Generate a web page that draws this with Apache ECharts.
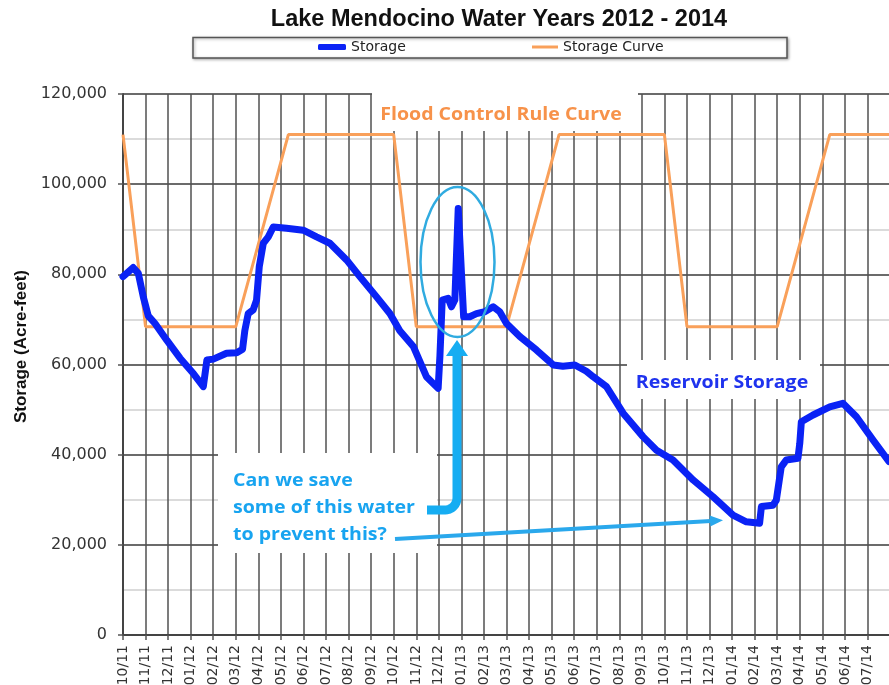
<!DOCTYPE html>
<html><head><meta charset="utf-8">
<script src="https://cdn.jsdelivr.net/npm/echarts@6/dist/echarts.min.js"></script>
<style>html,body{margin:0;padding:0;background:#fff}#c{width:889px;height:685px}</style>
</head><body><div id="c"></div>
<script>
// Month index: 0 = 10/11 (Oct 2011)
const monthLabels = ['10/11','11/11','12/11','01/12','02/12','03/12','04/12','05/12','06/12','07/12','08/12','09/12',
  '10/12','11/12','12/12','01/13','02/13','03/13','04/13','05/13','06/13','07/13','08/13','09/13',
  '10/13','11/13','12/13','01/14','02/14','03/14','04/14','05/14','06/14','07/14'];

const storageMonth = [0.00,0.25,0.45,0.68,0.90,1.12,1.42,1.94,2.53,3.12,3.56,3.63,3.72,4.00,4.59,5.04,5.30,5.40,5.55,5.77,
  5.92,6.04,6.22,6.44,6.66,7.25,7.99,8.58,9.17,9.91,10.50,11.24,11.83,12.27,12.87,13.45,13.97,14.05,14.15,14.41,
  14.56,14.71,14.86,15.10,15.37,15.67,16.04,16.41,16.70,17.00,17.59,18.33,19.07,19.50,20.03,20.54,20.84,21.43,22.17,23.05,
  23.65,24.38,25.27,26.15,27.04,27.63,28.22,28.30,28.81,28.96,29.18,29.40,29.92,30.00,30.07,30.59,31.33,31.91,32.51,33.24,33.95];
const storageValue = [79500,80600,81500,80200,75000,70800,69100,65400,61400,58000,55100,54700,61000,61200,62500,62600,63400,67500,71300,72100,
  74300,81700,86900,88300,90500,90200,89800,88300,86900,83200,79500,75000,71300,67500,64000,57300,54700,62000,74300,74700,
  72800,74300,94600,70600,70600,71300,71700,72800,71700,69100,66200,63200,59900,59600,59900,58500,57300,55100,49200,44000,
  41000,38800,34400,30700,26600,25100,24800,28500,28800,29900,37300,38800,39200,42500,47300,48800,50600,51400,48400,43300,38500];

const curveMonth = [0, 1, 5, 7.33, 12, 13, 17, 19.33, 24, 25, 29, 31.33, 34];
const curveValue = [111000, 68400, 68400, 111000, 111000, 68400, 68400, 111000, 111000, 68400, 68400, 111000, 111000];

const chart = echarts.init(document.getElementById('c'), null, {renderer: 'canvas'});
const storageData = storageMonth.map((m, i) => [m, storageValue[i]]);
const curveData = curveMonth.map((m, i) => [m, curveValue[i]]);

const legendText = {fontFamily: 'DejaVu Sans', fontSize: 14, color: '#222'};
const noteFont = '"Open Sans", "Lato", sans-serif';
const noteScale = 1.15;

function arc(cx, cy, r, a0, a1, n) {
  const pts = [];
  for (let i = 0; i <= n; i++) {
    const a = a0 + (a1 - a0) * i / n;
    pts.push([cx + r * Math.cos(a), cy + r * Math.sin(a)]);
  }
  return pts;
}

const bentPts = [[427, 510]].concat(arc(445, 498, 12, Math.PI / 2, 0, 8)).concat([[457, 354]]);

chart.setOption({
  animation: false,
  backgroundColor: '#fff',
  title: {
    text: 'Lake Mendocino Water Years 2012 - 2014',
    left: 499, top: 8, textAlign: 'center', padding: 0,
    textStyle: {fontFamily: 'Liberation Sans', fontWeight: 'bold', fontSize: 23.5, color: '#111'}
  },
  legend: [
    {data: ['Storage'], left: 318, top: 40, padding: 0, icon: 'roundRect', itemWidth: 28, itemHeight: 6, textStyle: legendText, selectedMode: false},
    {data: ['Storage Curve'], left: 532, top: 40, padding: 0, icon: 'rect', itemWidth: 26, itemHeight: 3, textStyle: legendText, selectedMode: false}
  ],
  grid: {left: 123, top: 94, width: 767, height: 541, containLabel: false, outerBoundsMode: 'none'},
  xAxis: {
    type: 'value', min: 0, max: 34, interval: 1,
    axisLine: {show: true, onZero: false, lineStyle: {color: '#444', width: 2}},
    axisTick: {show: true, length: 5, lineStyle: {color: '#555', width: 1.5}},
    axisLabel: {
      rotate: 90, margin: 10, fontFamily: 'DejaVu Sans', fontSize: 14, color: '#333',
      showMinLabel: true, showMaxLabel: false, hideOverlap: false,
      formatter: v => {
        const r = Math.round(v);
        return (Math.abs(v - r) < 1e-6 && r >= 0 && r < monthLabels.length) ? monthLabels[r] : '';
      }
    },
    splitLine: {show: true, lineStyle: {color: '#505050', width: 1.5}}
  },
  yAxis: {
    type: 'value', min: 0, max: 120000, interval: 20000,
    name: 'Storage (Acre-feet)', nameLocation: 'middle', nameGap: 91, nameRotate: 90,
    nameTextStyle: {fontFamily: 'Liberation Sans', fontWeight: 'bold', fontSize: 17, color: '#111', padding: [0, 0, 0, 36]},
    axisLine: {show: true, lineStyle: {color: '#444', width: 2}},
    axisTick: {show: true, length: 5, lineStyle: {color: '#555', width: 1.5}},
    axisLabel: {margin: 16, fontFamily: 'DejaVu Sans', fontSize: 16, color: '#333',
      formatter: v => v.toLocaleString('en-US')},
    splitLine: {show: true, lineStyle: {color: '#3a3a3a', width: 1.5}},
    minorTick: {show: false, splitNumber: 2},
    minorSplitLine: {show: true, lineStyle: {color: '#d0d0d0', width: 1.5}}
  },
  series: [
    {name: 'Storage', type: 'line', data: storageData, symbol: 'none', z: 3,
      lineStyle: {color: '#0A22F5', width: 7, join: 'round', cap: 'round'}, itemStyle: {color: '#0A22F5'}},
    {name: 'Storage Curve', type: 'line', data: curveData, symbol: 'none', z: 2,
      lineStyle: {color: '#F9A05A', width: 3}, itemStyle: {color: '#F9A05A'}}
  ],
  graphic: [
    {type: 'rect', z: 0, shape: {x: 193, y: 37.5, width: 594, height: 20.5},
      style: {fill: '#fff', stroke: '#555', lineWidth: 1.5, shadowBlur: 3, shadowColor: 'rgba(0,0,0,0.35)', shadowOffsetX: 1, shadowOffsetY: 1}},
    {type: 'rect', z: 1, shape: {x: 372, y: 90, width: 266, height: 41}, style: {fill: '#fff'}},
    {type: 'text', z: 1, x: 501, y: 115, scaleX: noteScale,
      style: {text: 'Flood Control Rule Curve', fill: '#F7924A', font: 'bold 17px ' + noteFont,
        textAlign: 'center', textVerticalAlign: 'middle', align: 'center', verticalAlign: 'middle'}},
    {type: 'rect', z: 1, shape: {x: 627, y: 360, width: 193, height: 39}, style: {fill: '#fff'}},
    {type: 'text', z: 1, x: 722, y: 383, scaleX: noteScale,
      style: {text: 'Reservoir Storage', fill: '#1F33EE', font: 'bold 17px ' + noteFont,
        textAlign: 'center', textVerticalAlign: 'middle', align: 'center', verticalAlign: 'middle'}},
    {type: 'rect', z: 1, shape: {x: 218, y: 453, width: 219, height: 100}, style: {fill: '#fff'}},
    {type: 'text', z: 1, x: 233, y: 468, scaleX: noteScale,
      style: {text: 'Can we save\nsome of this water\nto prevent this?', fill: '#18A4F0', font: 'bold 17px ' + noteFont,
        lineHeight: 27, textAlign: 'left', textVerticalAlign: 'top', align: 'left', verticalAlign: 'top'}},
    {type: 'polyline', z: 10, shape: {points: bentPts},
      style: {stroke: '#16ADF2', lineWidth: 9, fill: null, lineJoin: 'round'}},
    {type: 'polygon', z: 10, shape: {points: [[446, 356], [468, 356], [457, 340]]}, style: {fill: '#16ADF2'}},
    {type: 'line', z: 10, shape: {x1: 395, y1: 539, x2: 711, y2: 521},
      style: {stroke: '#2AA8EC', lineWidth: 4}},
    {type: 'polygon', z: 10, shape: {points: [[723, 520.3], [710.3, 526.5], [709.7, 515.5]]}, style: {fill: '#2AA8EC'}},
    {type: 'ellipse', z: 10, shape: {cx: 457.5, cy: 262, rx: 37, ry: 75},
      style: {stroke: '#30ABE0', lineWidth: 2.5, fill: null}}
  ]
});
</script></body></html>
